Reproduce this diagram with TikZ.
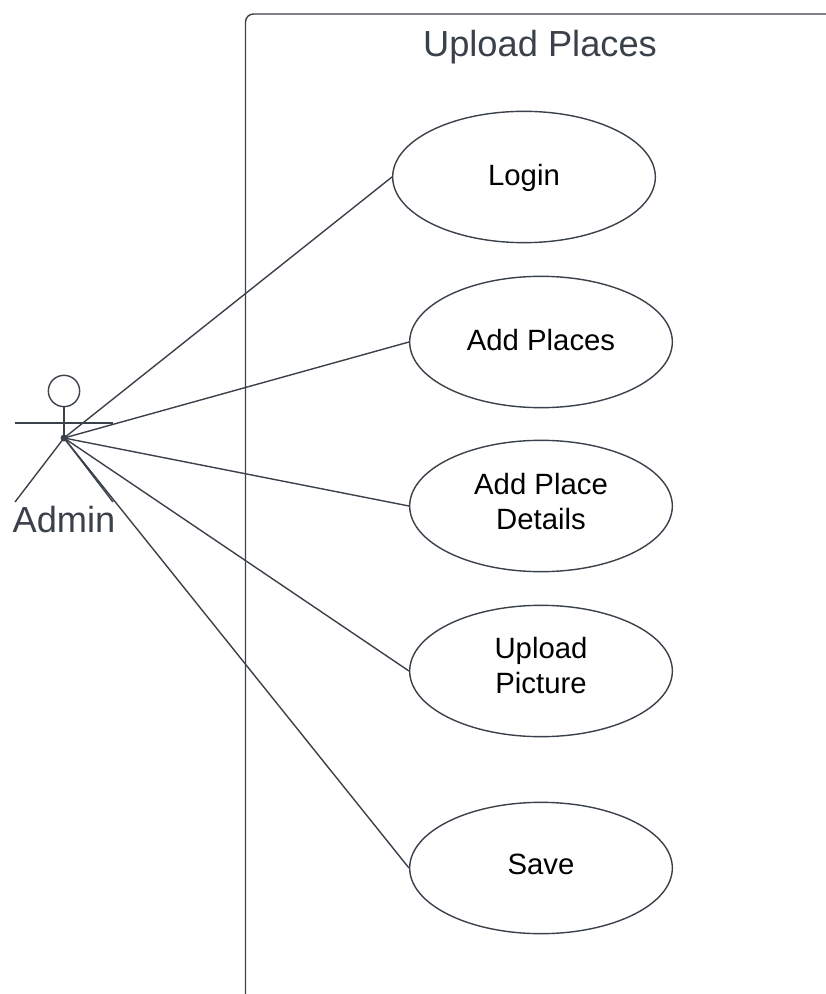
\documentclass[tikz,border=0pt]{standalone}
\usepackage{fontspec}
\setmainfont{Liberation Sans}
\usetikzlibrary{shapes.geometric}
\definecolor{linec}{HTML}{3A414A}
\definecolor{titlec}{HTML}{3A414A}
\newcommand{\uctext}[2]{\raisebox{-#1pt}[0pt][0pt]{\begin{tabular}{@{}c@{}}#2\end{tabular}}}
\tikzset{
  px/.style={x=0.75pt,y=-0.75pt},
  uc/.style={draw=linec,line width=1.05pt,ellipse,fill=white,minimum width=197pt,minimum height=98.5pt,inner sep=0pt,align=center,font=\fontsize{22}{26.25}\selectfont,text=black},
  wire/.style={draw=linec,line width=1.05pt},
  lbl/.style={inner sep=0pt,text=titlec,font=\fontsize{27.2}{30}\selectfont}
}
\begin{document}
\begin{tikzpicture}[px]
\useasboundingbox (0,0) rectangle (825,994);
\draw[wire,rounded corners=6pt] (245.5,1000) -- (245.5,14) -- (830,14);
\node[lbl] (title) at (540,47.5) {Upload Places};
\node[uc] (login) at (524,177) {\uctext{6}{Login}};
\node[uc] (add) at (541,342) {\uctext{6}{Add Places}};
\node[uc] (details) at (541,506) {\uctext{4.5}{Add Place\\Details}};
\node[uc] (upload) at (541,671) {\uctext{3.75}{Upload\\Picture}};
\node[uc] (save) at (541,868) {\uctext{4.5}{Save}};
\coordinate (hip) at (64,438);
\node[circle,draw=linec,line width=1.05pt,minimum size=23.5pt,inner sep=0pt] (head) at (64,391) {};
\coordinate (armL) at (15,423);
\coordinate (armR) at (113,423);
\coordinate (footL) at (15,502);
\coordinate (footR) at (113,502);
\draw[wire] (head.south) -- (hip);
\draw[wire] (armL) -- (armR);
\draw[wire] (footL) -- (hip) -- (footR);
\fill[linec] (hip) circle (2.6pt);
\node[lbl] (admin) at (64,520) {Admin};
\draw[wire] (hip) -- (login.west);
\draw[wire] (hip) -- (add.west);
\draw[wire] (hip) -- (details.west);
\draw[wire] (hip) -- (upload.west);
\draw[wire] (hip) -- (save.west);
\end{tikzpicture}
\end{document}
